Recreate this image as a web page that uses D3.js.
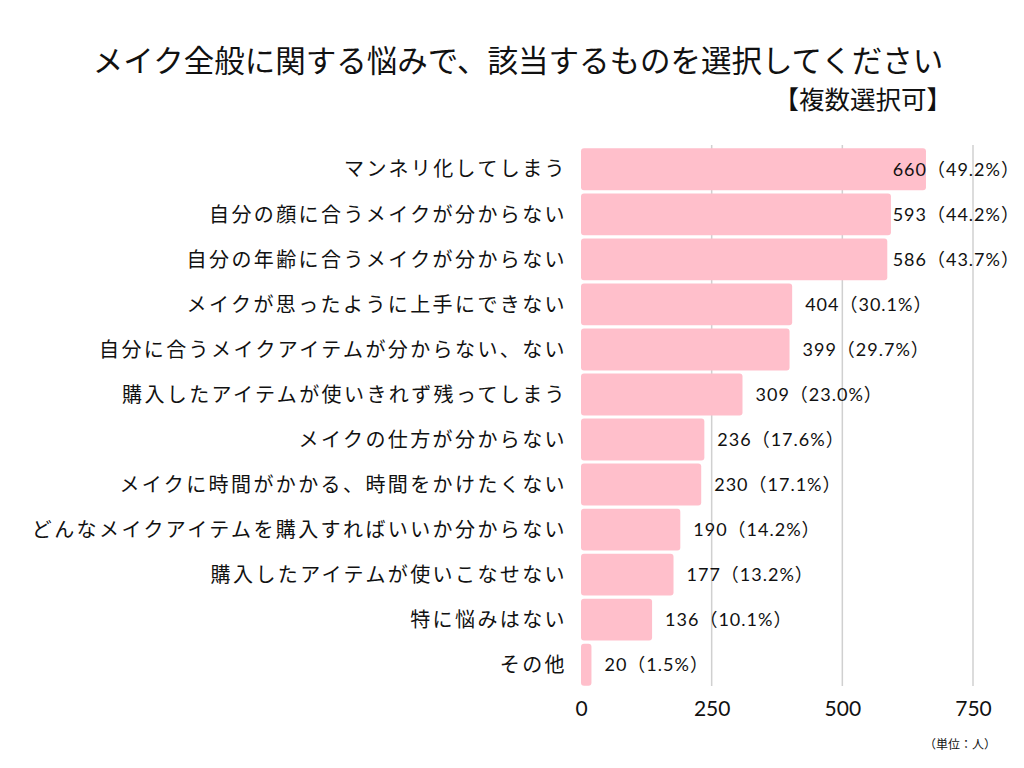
<!DOCTYPE html>
<html><head><meta charset="utf-8">
<script src="https://cdn.jsdelivr.net/npm/d3@7"></script>
<style>body{margin:0;background:#fff}svg{display:block}</style>
</head><body>
<script>
const categories = ["マンネリ化してしまう","自分の顔に合うメイクが分からない","自分の年齢に合うメイクが分からない","メイクが思ったように上手にできない","自分に合うメイクアイテムが分からない、ない","購入したアイテムが使いきれず残ってしまう","メイクの仕方が分からない","メイクに時間がかかる、時間をかけたくない","どんなメイクアイテムを購入すればいいか分からない","購入したアイテムが使いこなせない","特に悩みはない","その他"];
const values = [660,593,586,404,399,309,236,230,190,177,136,20];
const percents = ["49.2%","44.2%","43.7%","30.1%","29.7%","23.0%","17.6%","17.1%","14.2%","13.2%","10.1%","1.5%"];
const tickValues = [0,250,500,750];
const title = "メイク全般に関する悩みで、該当するものを選択してください";
const subtitle = "【複数選択可】";
const unitNote = "（単位：人）";

const W=1024,H=768;
const svg=d3.select("body").append("svg").attr("width",W).attr("height",H);
const font="'Noto Sans CJK JP','Noto Sans',sans-serif";
const x=d3.scaleLinear().domain([0,750]).range([581,973]);
const y=d3.scaleBand().domain(categories).range([147,687]).paddingInner(0.07).paddingOuter(0.03);

// grid
svg.append("g").selectAll("line").data(tickValues.slice(1)).join("line")
  .attr("x1",d=>x(d)).attr("x2",d=>x(d)).attr("y1",145).attr("y2",686)
  .attr("stroke","#d0d0d0").attr("stroke-width",1.5);

// bars
svg.append("g").selectAll("rect").data(values).join("rect")
  .attr("x",x(0)).attr("y",(d,i)=>y(categories[i]))
  .attr("width",d=>x(d)-x(0)).attr("height",y.bandwidth())
  .attr("rx",3).attr("fill","#FFBFCB");

// category labels
svg.append("g").selectAll("text").data(categories).join("text")
  .attr("x",567).attr("y",d=>y(d)+y.bandwidth()/2).attr("dy","0.36em")
  .attr("text-anchor","end").attr("font-family",font).attr("font-size",20)
  .attr("letter-spacing","2.4px").attr("fill","#111").text(d=>d);

// value labels
const vl=svg.append("g").selectAll("text").data(values).join("text")
  .attr("y",(d,i)=>y(categories[i])+y.bandwidth()/2).attr("dy","0.36em")
  .attr("font-family","Lato,'Noto Sans CJK JP',sans-serif").attr("font-size",18)
  .attr("letter-spacing","1px").attr("fill","#111").text((d,i)=>d+"（"+percents[i]+"）");
vl.each(function(d){
  const w=this.getComputedTextLength();
  d3.select(this).attr("x",Math.min(x(d)+13,1020-w));
});

// x axis tick labels
const ax=svg.append("g").attr("transform","translate(0,686)")
  .call(d3.axisBottom(x).tickValues(tickValues).tickSize(0).tickPadding(15));
ax.select(".domain").remove();
ax.selectAll("text").attr("font-family","Lato,'Noto Sans',sans-serif").attr("font-size",21).attr("fill","#111");

// titles
svg.append("text").attr("x",518).attr("y",72).attr("text-anchor","middle")
  .attr("font-family",font).attr("font-size",30.5).attr("fill","#111").text(title);
svg.append("text").attr("x",952).attr("y",109).attr("text-anchor","end")
  .attr("font-family",font).attr("font-size",25.5).attr("fill","#111").text(subtitle);
svg.append("text").attr("x",996).attr("y",749).attr("text-anchor","end")
  .attr("font-family",font).attr("font-size",12).attr("fill","#111").text(unitNote);
</script>
</body></html>
